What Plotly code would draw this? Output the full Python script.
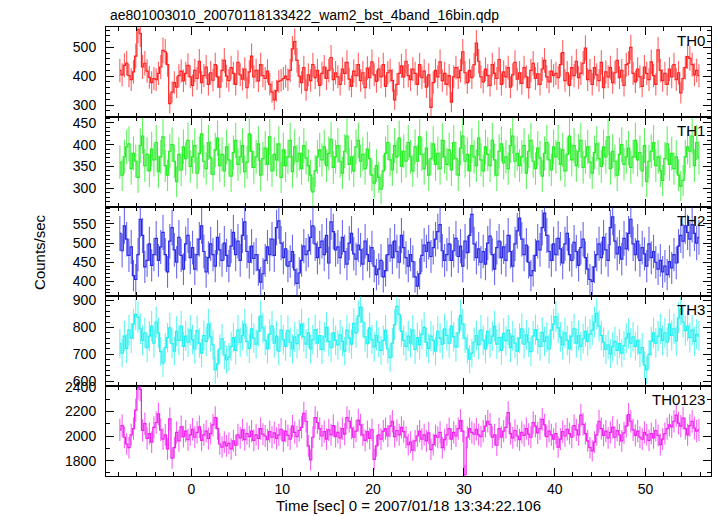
import numpy as np
import plotly.graph_objects as go

# ---- data (0.25 s bins, bin centres from -7.875 s) ----
BIN = 0.25
T0 = -7.875

th0 = [
    420, 405, 438, 446, 402, 388, 415, 470, 562, 548, 432, 445, 418, 396, 378, 392,
    388, 410, 432, 490, 485, 440, 305, 345, 378, 362, 402, 418, 384, 410, 438, 398,
    368, 420, 392, 452, 378, 402, 432, 372, 412, 386, 440, 398, 362, 420, 455, 400,
    385, 430, 410, 372, 448, 405, 390, 425, 360, 415, 470, 398, 420, 384, 440, 402,
    392, 418, 372, 345, 318, 350, 382, 386, 392, 400, 388, 420, 495, 520, 455, 400,
    378, 430, 352, 405, 385, 440, 395, 420, 368, 410, 432, 392, 420, 465, 388, 412,
    398, 372, 425, 410, 448, 390, 365, 418, 402, 440, 385, 412, 360, 428, 395, 450,
    405, 382, 425, 398, 440, 365, 412, 420, 385, 318, 372, 410, 436, 398, 452, 402,
    388, 425, 410, 372, 440, 395, 418, 362, 405, 292, 378, 420, 398, 450, 385, 410,
    372, 402, 310, 398, 430, 395, 420, 485, 412, 378, 420, 395, 440, 515, 452, 398,
    380, 425, 402, 368, 440, 410, 392, 458, 372, 415, 398, 430, 362, 405, 448, 390,
    412, 375, 430, 398, 360, 420, 445, 392, 408, 372, 425, 455, 398, 380, 418, 402,
    410, 395, 440, 482, 385, 412, 368, 430, 402, 452, 395, 410, 445, 498, 388, 420,
    372, 430, 405, 385, 448, 360, 415, 398, 430, 378, 412, 455, 395, 420, 368, 440,
    445, 500, 410, 380, 425, 398, 365, 432, 410, 388, 450, 402, 372, 492, 420, 385,
    410, 372, 425, 398, 440, 388, 412, 342, 392, 430, 468, 462, 440, 405, 420, 402,
]

th1 = [
    360, 330, 372, 395, 402, 345, 380, 362, 325, 398, 420, 352, 378, 340, 390, 365,
    405, 338, 372, 418, 352, 330, 385, 400, 362, 315, 378, 342, 395, 368, 410, 350,
    372, 398, 335, 380, 425, 362, 345, 405, 370, 332, 388, 415, 352, 378, 340, 395,
    365, 328, 382, 410, 355, 372, 398, 338, 360, 425, 385, 348, 372, 402, 330, 368,
    392, 355, 418, 340, 378, 365, 402, 325, 388, 352, 372, 410, 338, 395, 362, 380,
    345, 398, 370, 352, 330, 292, 340, 372, 388, 365, 395, 352, 380, 412, 348, 372,
    398, 362, 335, 385, 420, 355, 372, 340, 395, 410, 362, 378, 345, 390, 368, 330,
    312, 352, 325, 298, 340, 380, 405, 365, 342, 398, 372, 415, 350, 385, 362, 405,
    372, 340, 395, 362, 418, 378, 345, 392, 330, 368, 402, 355, 380, 345, 410, 372,
    355, 388, 342, 405, 368, 330, 392, 420, 362, 378, 340, 398, 372, 352, 415, 365,
    340, 395, 378, 352, 410, 365, 330, 385, 402, 358, 372, 345, 398, 420, 362, 380,
    352, 372, 398, 335, 385, 410, 362, 345, 392, 370, 328, 380, 405, 365, 342, 395,
    372, 405, 355, 388, 340, 378, 420, 365, 398, 352, 385, 410, 348, 372, 395, 360,
    335, 382, 402, 368, 350, 395, 372, 418, 345, 385, 362, 330, 378, 400, 355, 372,
    392, 348, 372, 410, 365, 382, 340, 398, 315, 362, 385, 405, 352, 372, 340, 318,
    368, 402, 355, 380, 345, 372, 330, 305, 318, 372, 395, 385, 420, 352, 405, 370,
]

th2 = [
    525, 480, 545, 510, 468, 490, 415, 405, 470, 562, 520, 438, 455, 498, 442, 470,
    512, 455, 490, 528, 470, 425, 505, 540, 482, 450, 515, 468, 432, 498, 520, 462,
    488, 432, 470, 510, 545, 478, 425, 462, 498, 470, 440, 515, 482, 455, 500, 468,
    440, 492, 528, 470, 505, 455, 520, 555, 478, 450, 492, 460, 470, 430, 398, 420,
    455, 490, 470, 510, 468, 540, 558, 500, 462, 485, 440, 452, 478, 430, 395, 422,
    455, 492, 470, 480, 515, 545, 498, 462, 488, 505, 470, 520, 448, 555, 530, 482,
    490, 462, 515, 478, 445, 500, 525, 472, 458, 495, 482, 445, 505, 470, 452, 488,
    440, 418, 432, 455, 412, 428, 470, 495, 462, 505, 478, 450, 520, 488, 462, 440,
    470, 452, 412, 388, 420, 468, 495, 478, 502, 465, 488, 510, 530, 548, 480, 455,
    470, 498, 455, 480, 512, 465, 492, 440, 505, 475, 520, 575, 498, 462, 485, 450,
    478, 445, 500, 518, 470, 432, 488, 505, 462, 490, 455, 520, 478, 440, 498, 532,
    565, 510, 470, 495, 450, 415, 428, 468, 505, 482, 540, 578, 520, 478, 455, 498,
    470, 512, 485, 448, 498, 525, 470, 455, 502, 478, 442, 488, 510, 462, 432, 405,
    400, 438, 470, 498, 462, 515, 482, 455, 540, 568, 505, 472, 490, 458, 512, 485,
    525, 562, 498, 470, 505, 455, 488, 472, 440, 498, 462, 478, 450, 432, 455, 425,
    440, 418, 452, 435, 470, 448, 492, 520, 505, 545, 528, 510, 548, 525, 500, 515,
]

th3 = [
    740, 705, 768, 722, 790, 760, 812, 848, 838, 795, 752, 780, 725, 768, 805, 742,
    820, 780, 710, 668, 725, 762, 798, 740, 712, 785, 752, 805, 730, 768, 745, 790,
    755, 720, 788, 742, 705, 770, 748, 812, 765, 735, 642, 665, 720, 758, 698, 680,
    690, 730, 762, 715, 790, 745, 770, 812, 748, 722, 795, 760, 738, 785, 842, 798,
    752, 720, 775, 805, 742, 768, 712, 790, 755, 730, 788, 745, 720, 765, 740, 772,
    812, 765, 738, 780, 720, 755, 792, 742, 770, 718, 765, 800, 748, 725, 780, 752,
    735, 772, 748, 712, 790, 760, 738, 815, 780, 842, 875, 820, 765, 740, 798, 755,
    728, 770, 745, 715, 752, 790, 720, 688, 742, 810, 878, 848, 785, 752, 730, 768,
    742, 790, 718, 762, 735, 775, 800, 745, 722, 768, 752, 712, 785, 760, 738, 795,
    770, 742, 805, 765, 728, 780, 845, 812, 760, 720, 682, 705, 745, 770, 735, 790,
    752, 720, 785, 742, 768, 805, 738, 762, 715, 778, 750, 790, 725, 768, 742, 712,
    760, 795, 738, 772, 745, 710, 768, 792, 755, 730, 782, 748, 765, 720, 790, 812,
    840, 798, 765, 735, 780, 752, 720, 768, 795, 742, 770, 730, 758, 785, 748, 775,
    790, 820, 852, 805, 770, 745, 718, 735, 702, 728, 748, 715, 740, 705, 732, 760,
    778, 742, 765, 730, 752, 705, 725, 660, 642, 700, 748, 780, 742, 768, 795, 752,
    780, 745, 812, 770, 795, 750, 835, 868, 820, 788, 805, 762, 790, 748, 775, 768,
]

th0123 = [
    2050, 2085, 1990, 1935, 1905, 2010, 2060, 2210, 2395, 2380, 2045, 2100, 1980, 2020, 1950, 2070,
    2110, 2180, 2050, 1975, 2010, 1895, 2140, 1820, 1905, 2030, 1960, 2075, 1995, 2040, 1970, 2010,
    2055, 1990, 2030, 2075, 1965, 2010, 2040, 1980, 2020, 2090, 2150, 2060, 1935, 1910, 1950, 1920,
    1940, 1895, 1960, 1925, 2010, 1985, 2050, 1970, 2020, 1995, 2040, 1965, 2010, 1980, 2060, 2015,
    2000, 1970, 2035, 1990, 2025, 1980, 2010, 2055, 1960, 2040, 2005, 1975, 2080, 2030, 1995, 2045,
    2070, 2185, 2120, 1920, 1805, 1990, 2150, 2110, 2060, 2000, 2035, 1975, 2050, 2010, 2085, 1995,
    2030, 1985, 2060, 2015, 2150, 2120, 2065, 1990, 2040, 2130, 2090, 2010, 1965, 2035, 1980, 2050,
    1810, 1920, 2010, 1975, 2040, 2060, 2000, 2080, 2120, 1995, 2045, 2010, 2070, 2035, 1990, 1930,
    1950, 1885, 1960, 2000, 2040, 1975, 2010, 1960, 2025, 1890, 1930, 2005, 1990, 2030, 1905, 1970,
    2010, 2060, 1975, 2030, 2000, 2060, 2125, 2040, 1685, 1990, 2060, 2030, 2015, 2055, 2010, 1995,
    2040, 2080, 2120, 2095, 1990, 2010, 1925, 2060, 1990, 2040, 2070, 2190, 2020, 1985, 2045, 2000,
    1970, 2030, 2005, 2060, 2015, 1990, 2110, 2080, 2025, 2060, 2135, 2090, 1995, 2040, 2010, 1975,
    2020, 1910, 1975, 2035, 2000, 2055, 2020, 1990, 2085, 2050, 2010, 2170, 2095, 2020, 1960, 1905,
    1880, 1950, 2010, 2120, 2060, 2005, 2040, 1985, 2030, 2070, 1990, 2045, 2010, 1960, 2025, 2080,
    2175, 2120, 2050, 2005, 2040, 1990, 1975, 2030, 2010, 1965, 2020, 1985, 2045, 2005, 1930, 1975,
    2020, 2060, 2090, 2075, 2120, 2170, 2105, 2080, 2145, 2060, 2010, 2085, 2120, 2065, 2040, 2050,
]

series = [th0, th1, th2, th3, th0123]
labels = ["TH0", "TH1", "TH2", "TH3", "TH0123"]
colors = ["#ff2020", "#22ee22", "#2a2ae6", "#22f0f0", "#f020f0"]
bar_colors = ["rgba(255,30,30,0.7)", "rgba(30,235,30,0.7)", "rgba(40,40,230,0.7)",
              "rgba(30,240,240,0.7)", "rgba(240,30,240,0.7)"]
y_ranges = [[259, 571], [258, 464], [361, 595], [582, 915], [1675, 2405]]
y_dtick = [100, 50, 50, 100, 200]
y_minor = [20, 10, 10, 20, 100]
x_range = [-9.4, 57.2]

FONT = "Liberation Sans, Arial, sans-serif"

# ---- figure ----
fig = go.Figure()
n_panels = 5
top, bottom = 27, 40
H, W = 516, 717
plot_h = H - top - bottom
panel_h = plot_h / n_panels

for k in range(n_panels):
    vals = np.array(series[k], dtype=float)
    t = T0 + BIN * np.arange(len(vals))
    err = np.sqrt(vals / BIN)
    axn = "" if k == 0 else str(k + 1)
    # error bars
    fig.add_trace(go.Scatter(
        x=t, y=vals, mode="markers",
        marker=dict(size=1, color=colors[k], opacity=0),
        error_y=dict(type="data", array=err, thickness=1.1, width=0, color=bar_colors[k]),
        xaxis="x" + axn, yaxis="y" + axn, showlegend=False, hoverinfo="skip",
    ))
    # step line through bin values
    fig.add_trace(go.Scatter(
        x=t, y=vals, mode="lines", line=dict(shape="hvh", width=1.2, color=colors[k]),
        xaxis="x" + axn, yaxis="y" + axn, showlegend=False, hoverinfo="skip",
    ))
    y1 = 1 - k * panel_h / plot_h
    y0 = 1 - (k + 1) * panel_h / plot_h
    common_x = dict(range=x_range, showline=True, linecolor="black", linewidth=1,
                    mirror="allticks", ticks="inside", ticklen=8, tickwidth=1,
                    tickcolor="black", dtick=10, tick0=0, showgrid=False, zeroline=False,
                    minor=dict(dtick=2, ticks="inside", ticklen=4, tickcolor="black",
                               showgrid=False),
                    anchor="y" + axn,
                    tickfont=dict(family=FONT, size=14, color="black"))
    if k < n_panels - 1:
        common_x["showticklabels"] = False
        common_x["matches"] = "x5"
    fig.update_layout(**{"xaxis" + axn: common_x})
    fig.update_layout(**{"yaxis" + axn: dict(
        domain=[y0, y1], range=y_ranges[k], anchor="x" + axn,
        showline=True, linecolor="black", linewidth=1, mirror="allticks",
        ticks="inside", ticklen=8, tickwidth=1, tickcolor="black",
        dtick=y_dtick[k], tick0=0, showgrid=False, zeroline=False,
        minor=dict(dtick=y_minor[k], ticks="inside", ticklen=4, tickcolor="black",
                   showgrid=False),
        ticklabelstandoff=6,
        tickfont=dict(family=FONT, size=14, color="black"),
    )})
    fig.add_annotation(text=labels[k], xref="paper", yref="paper", x=0.993,
                       y=y1 - 3 / plot_h, xanchor="right", yanchor="top", showarrow=False,
                       font=dict(family=FONT, size=15, color="black"))

fig.add_annotation(text="Time [sec] 0 = 2007/01/18 13:34:22.106",
                   xref="paper", yref="paper", x=0.5, y=0, yshift=-29,
                   xanchor="center", yanchor="middle", showarrow=False,
                   font=dict(family=FONT, size=15, color="black"))
fig.add_annotation(text="ae801003010_20070118133422_wam2_bst_4band_16bin.qdp",
                   xref="paper", yref="paper", x=0.003, y=1, yshift=2,
                   xanchor="left", yanchor="bottom", showarrow=False,
                   font=dict(family=FONT, size=14, color="black"))
fig.add_annotation(text="Counts/sec", xref="paper", yref="paper", x=-0.11, y=0.5,
                   xanchor="center", yanchor="middle", textangle=-90, showarrow=False,
                   font=dict(family=FONT, size=15, color="black"))

fig.update_layout(
    width=W, height=H,
    margin=dict(l=106, r=6, t=top, b=bottom),
    paper_bgcolor="white", plot_bgcolor="white",
    showlegend=False,
)

fig.write_html("out.html", config={"displayModeBar": False},
               post_script="document.body.style.margin='0px';document.body.style.overflow='hidden';")
